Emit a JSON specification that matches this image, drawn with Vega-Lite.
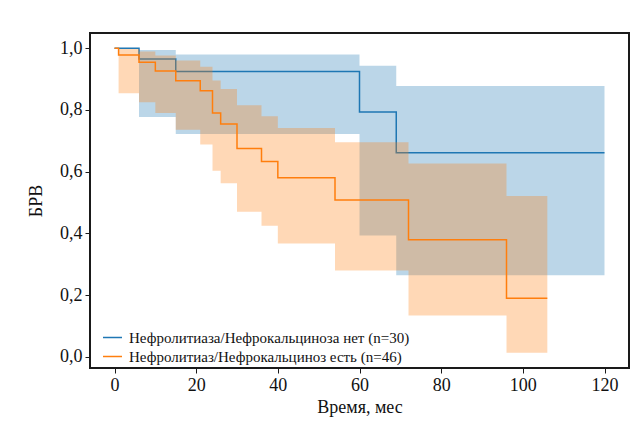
{
  "$schema": "https://vega.github.io/schema/vega-lite/v6.json",
  "autosize": {"type": "none"},
  "width": 539,
  "height": 335,
  "padding": {"left": 90, "top": 33, "right": 12, "bottom": 63},
  "background": "white",
  "data": {
    "values": [
      {"group": "Нефролитиаза/Нефрокальциноза нет (n=30)", "t": 0, "s": 1.0, "lo": 1.0, "hi": 1.0},
      {"group": "Нефролитиаза/Нефрокальциноза нет (n=30)", "t": 6, "s": 0.965, "lo": 0.777, "hi": 0.994},
      {"group": "Нефролитиаза/Нефрокальциноза нет (n=30)", "t": 15, "s": 0.924, "lo": 0.722, "hi": 0.979},
      {"group": "Нефролитиаза/Нефрокальциноза нет (n=30)", "t": 60, "s": 0.793, "lo": 0.393, "hi": 0.943},
      {"group": "Нефролитиаза/Нефрокальциноза нет (n=30)", "t": 69, "s": 0.661, "lo": 0.264, "hi": 0.877},
      {"group": "Нефролитиаза/Нефрокальциноза нет (n=30)", "t": 120, "s": 0.661, "lo": 0.264, "hi": 0.877},
      {"group": "Нефролитиаз/Нефрокальциноз есть (n=46)", "t": 0, "s": 1.0, "lo": 1.0, "hi": 1.0},
      {"group": "Нефролитиаз/Нефрокальциноз есть (n=46)", "t": 1, "s": 0.978, "lo": 0.854, "hi": 0.997},
      {"group": "Нефролитиаз/Нефрокальциноз есть (n=46)", "t": 6, "s": 0.954, "lo": 0.825, "hi": 0.989},
      {"group": "Нефролитиаз/Нефрокальциноз есть (n=46)", "t": 10, "s": 0.926, "lo": 0.79, "hi": 0.976},
      {"group": "Нефролитиаз/Нефрокальциноз есть (n=46)", "t": 15, "s": 0.894, "lo": 0.736, "hi": 0.96},
      {"group": "Нефролитиаз/Нефрокальциноз есть (n=46)", "t": 21, "s": 0.862, "lo": 0.688, "hi": 0.94},
      {"group": "Нефролитиаз/Нефрокальциноз есть (n=46)", "t": 24, "s": 0.79, "lo": 0.603, "hi": 0.895},
      {"group": "Нефролитиаз/Нефрокальциноз есть (n=46)", "t": 26, "s": 0.754, "lo": 0.562, "hi": 0.868},
      {"group": "Нефролитиаз/Нефрокальциноз есть (n=46)", "t": 30, "s": 0.675, "lo": 0.47, "hi": 0.815},
      {"group": "Нефролитиаз/Нефрокальциноз есть (n=46)", "t": 36, "s": 0.633, "lo": 0.425, "hi": 0.779},
      {"group": "Нефролитиаз/Нефрокальциноз есть (n=46)", "t": 40, "s": 0.58, "lo": 0.367, "hi": 0.741},
      {"group": "Нефролитиаз/Нефрокальциноз есть (n=46)", "t": 54, "s": 0.508, "lo": 0.28, "hi": 0.695},
      {"group": "Нефролитиаз/Нефрокальциноз есть (n=46)", "t": 72, "s": 0.379, "lo": 0.134, "hi": 0.626},
      {"group": "Нефролитиаз/Нефрокальциноз есть (n=46)", "t": 96, "s": 0.19, "lo": 0.013, "hi": 0.521},
      {"group": "Нефролитиаз/Нефрокальциноз есть (n=46)", "t": 106, "s": 0.19, "lo": 0.013, "hi": 0.521}
    ]
  },
  "encoding": {
    "x": {
      "field": "t", "type": "quantitative",
      "scale": {"domain": [-6, 126], "nice": false, "zero": false},
      "axis": {"values": [0, 20, 40, 60, 80, 100, 120], "title": "Время, мес", "titlePadding": 4}
    }
  },
  "layer": [
    {
      "transform": [{"filter": "indexof(datum.group, 'нет') >= 0"}],
      "mark": {"type": "line", "interpolate": "step-after", "strokeWidth": 1.5},
      "encoding": {
        "y": {
          "field": "s", "type": "quantitative",
          "scale": {"domain": [-0.036, 1.049], "nice": false, "zero": false},
          "axis": {"values": [0, 0.2, 0.4, 0.6, 0.8, 1.0], "title": "БРВ", "labelExpr": "replace(format(datum.value, '.1f'), '.', ',')", "titlePadding": 14}
        },
        "stroke": {
          "field": "group", "type": "nominal",
          "scale": {"domain": ["Нефролитиаза/Нефрокальциноза нет (n=30)", "Нефролитиаз/Нефрокальциноз есть (n=46)"], "range": ["#1f77b4", "#ff7f0e"]},
          "legend": {"title": null, "orient": "bottom-left", "offset": 3, "padding": 0, "symbolType": "stroke", "symbolSize": 360, "symbolStrokeWidth": 1.5, "symbolOffset": 9, "labelFont": "Liberation Serif", "labelFontSize": 15, "labelColor": "#111", "labelOffset": 6, "rowPadding": -3, "labelLimit": 400}
        }
      }
    },
    {
      "transform": [{"filter": "indexof(datum.group, 'нет') >= 0"}],
      "mark": {"type": "area", "interpolate": "step-after", "fillOpacity": 0.3},
      "encoding": {
        "y": {"field": "lo", "type": "quantitative"},
        "y2": {"field": "hi"},
        "fill": {
          "field": "group", "type": "nominal",
          "scale": {"domain": ["Нефролитиаза/Нефрокальциноза нет (n=30)", "Нефролитиаз/Нефрокальциноз есть (n=46)"], "range": ["#1f77b4", "#ff7f0e"]},
          "legend": null
        }
      }
    },
    {
      "transform": [{"filter": "indexof(datum.group, 'есть') >= 0"}],
      "mark": {"type": "line", "interpolate": "step-after", "strokeWidth": 1.5},
      "encoding": {
        "y": {"field": "s", "type": "quantitative"},
        "stroke": {"field": "group", "type": "nominal"}
      }
    },
    {
      "transform": [{"filter": "indexof(datum.group, 'есть') >= 0"}],
      "mark": {"type": "area", "interpolate": "step-after", "fillOpacity": 0.3},
      "encoding": {
        "y": {"field": "lo", "type": "quantitative"},
        "y2": {"field": "hi"},
        "fill": {"field": "group", "type": "nominal", "legend": null}
      }
    }
  ],
  "config": {
    "font": "Liberation Serif",
    "view": {"stroke": "#1a1a1a", "strokeWidth": 2},
    "axis": {
      "grid": false, "domain": false,
      "tickColor": "#1a1a1a", "tickSize": 5, "tickWidth": 1,
      "labelFont": "Liberation Serif", "labelFontSize": 18, "labelColor": "#111", "labelPadding": 3,
      "titleFont": "Liberation Serif", "titleFontSize": 18, "titleFontWeight": "normal", "titleColor": "#111"
    }
  }
}
